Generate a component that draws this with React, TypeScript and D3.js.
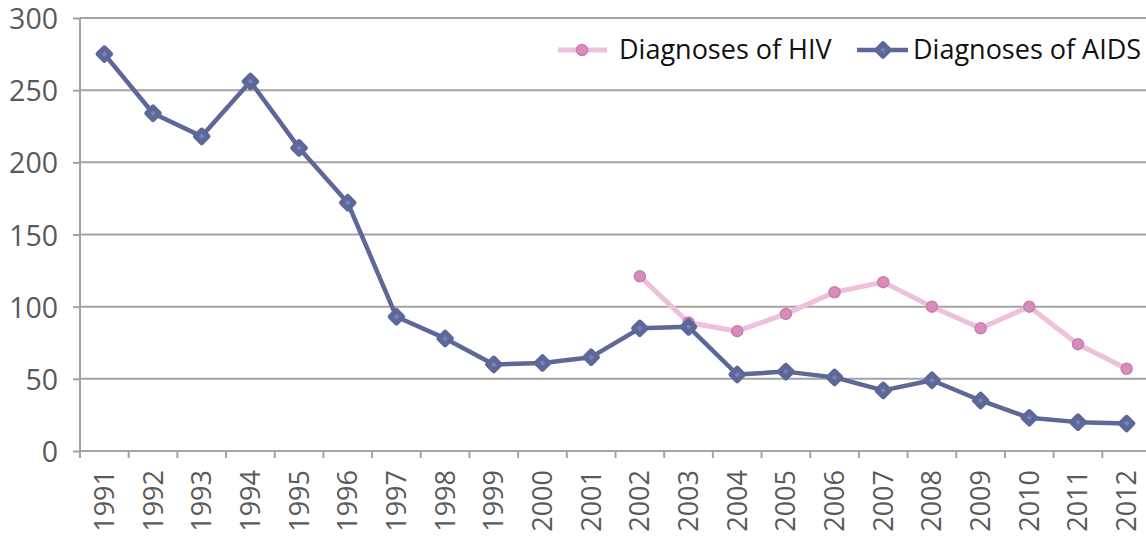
import { useEffect, useRef } from "react"
import * as d3 from "d3"

const years = [
  "1991", "1992", "1993", "1994", "1995", "1996", "1997", "1998", "1999", "2000", "2001",
  "2002", "2003", "2004", "2005", "2006", "2007", "2008", "2009", "2010", "2011", "2012",
]
const aidsValues = [275, 234, 218, 256, 210, 172, 93, 78, 60, 61, 65, 85, 86, 53, 55, 51, 42, 49, 35, 23, 20, 19]
const hivYears = ["2002", "2003", "2004", "2005", "2006", "2007", "2008", "2009", "2010", "2011", "2012"]
const hivValues = [121, 89, 83, 95, 110, 117, 100, 85, 100, 74, 57]
const yTicks = [0, 50, 100, 150, 200, 250, 300]

interface Pt {
  year: string
  value: number
}

const App = () => {
  const svgRef = useRef<SVGSVGElement | null>(null)

  useEffect(() => {
    if (!svgRef.current) return
    const svg = d3.select(svgRef.current)
    svg.selectAll("*").remove()

    const width = 1146
    const height = 540
    const left = 80
    const right = 1151
    const top = 18
    const bottom = 451
    const font = "'Open Sans', 'Noto Sans', sans-serif"
    const gridColor = "#a3a3a3"
    const aidsColor = "#5d6899"
    const hivColor = "#eec0dc"

    const x = d3.scaleBand().domain(years).range([left, right])
    const y = d3.scaleLinear().domain([0, 300]).range([bottom, top])
    const cx = (yr: string) => x(yr)! + x.bandwidth() / 2

    svg.attr("width", width).attr("height", height)

    // grid lines
    svg.append("g")
      .selectAll("line")
      .data(yTicks.filter((t) => t > 0))
      .join("line")
      .attr("x1", left)
      .attr("x2", width)
      .attr("y1", (d) => y(d))
      .attr("y2", (d) => y(d))
      .attr("stroke", gridColor)
      .attr("stroke-width", 2)

    // y axis
    const yAxis = svg.append("g").attr("transform", `translate(${left},0)`)
      .call(d3.axisLeft(y).tickValues(yTicks).tickSize(7).tickPadding(15))
    yAxis.select(".domain").remove()
    yAxis.selectAll("line").attr("stroke", gridColor).attr("stroke-width", 2)
    yAxis.selectAll("text")
      .attr("fill", "#595959")
      .style("font-family", font)
      .style("font-size", "28.5px")
      .attr("dy", "0.37em")
    svg.append("line")
      .attr("x1", left).attr("x2", left)
      .attr("y1", top).attr("y2", bottom + 7)
      .attr("stroke", gridColor).attr("stroke-width", 2)

    // x axis
    svg.append("line")
      .attr("x1", left).attr("x2", width)
      .attr("y1", bottom).attr("y2", bottom)
      .attr("stroke", gridColor).attr("stroke-width", 2)
    svg.append("g")
      .selectAll("line")
      .data(years)
      .join("line")
      .attr("x1", (d) => x(d)!)
      .attr("x2", (d) => x(d)!)
      .attr("y1", bottom)
      .attr("y2", bottom + 7)
      .attr("stroke", gridColor)
      .attr("stroke-width", 2)
    svg.append("g")
      .selectAll("text")
      .data(years)
      .join("text")
      .attr("transform", (d) => `translate(${cx(d) + 9.5},${bottom + 19}) rotate(-90)`)
      .attr("text-anchor", "end")
      .attr("fill", "#595959")
      .style("font-family", font)
      .style("font-size", "27px")
      .text((d) => d)

    const aids: Pt[] = years.map((yr, i) => ({ year: yr, value: aidsValues[i] }))
    const hiv: Pt[] = hivYears.map((yr, i) => ({ year: yr, value: hivValues[i] }))
    const line = d3.line<Pt>().x((d) => cx(d.year)).y((d) => y(d.value))

    // HIV series
    svg.append("path")
      .datum(hiv)
      .attr("fill", "none")
      .attr("stroke", hivColor)
      .attr("stroke-width", 5)
      .attr("stroke-linejoin", "round")
      .attr("d", line)
    svg.append("g")
      .selectAll("circle")
      .data(hiv)
      .join("circle")
      .attr("cx", (d) => cx(d.year))
      .attr("cy", (d) => y(d.value))
      .attr("r", 5.5)
      .attr("fill", "#d68dbb")
      .attr("stroke", "#c97caf")
      .attr("stroke-width", 1.5)

    // AIDS series
    svg.append("path")
      .datum(aids)
      .attr("fill", "none")
      .attr("stroke", aidsColor)
      .attr("stroke-width", 4.5)
      .attr("stroke-linejoin", "round")
      .attr("d", line)
    const diamond = d3.symbol().type(d3.symbolDiamond2).size(100)
    svg.append("g")
      .selectAll("path")
      .data(aids)
      .join("path")
      .attr("transform", (d) => `translate(${cx(d.year)},${y(d.value)})`)
      .attr("d", diamond)
      .attr("fill", "#7683b8")
      .attr("stroke", aidsColor)
      .attr("stroke-width", 5)
      .attr("stroke-linejoin", "round")

    // legend
    const legend = svg.append("g")
    const ly = 50
    legend.append("line").attr("x1", 558).attr("x2", 607).attr("y1", ly).attr("y2", ly)
      .attr("stroke", hivColor).attr("stroke-width", 5)
    legend.append("circle").attr("cx", 582).attr("cy", ly).attr("r", 5.5)
      .attr("fill", "#d68dbb").attr("stroke", "#c97caf").attr("stroke-width", 1.5)
    legend.append("text").attr("x", 619).attr("y", ly).attr("dy", "0.35em")
      .attr("fill", "#111").style("font-family", font).style("font-size", "27px")
      .text("Diagnoses of HIV")
    legend.append("line").attr("x1", 857).attr("x2", 908).attr("y1", ly).attr("y2", ly)
      .attr("stroke", aidsColor).attr("stroke-width", 4.5)
    legend.append("path").attr("transform", `translate(883,${ly})`).attr("d", diamond)
      .attr("fill", "#7683b8").attr("stroke", aidsColor).attr("stroke-width", 5)
      .attr("stroke-linejoin", "round")
    legend.append("text").attr("x", 913).attr("y", ly).attr("dy", "0.35em")
      .attr("fill", "#111").style("font-family", font).style("font-size", "27px")
      .text("Diagnoses of AIDS")
  }, [])

  return (
    <div style={{ position: "absolute", left: 0, top: 0 }}>
      <svg ref={svgRef} width={1146} height={540} style={{ display: "block" }} />
    </div>
  )
}

export default App
